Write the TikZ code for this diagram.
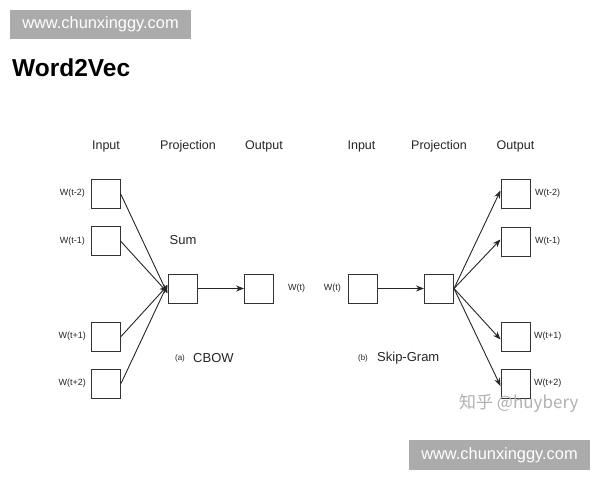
\documentclass[tikz,border=0pt]{standalone}
\usepackage{fontspec}
\setmainfont{Liberation Sans}
\newfontfamily\cjkfont{Noto Sans CJK SC}
\usetikzlibrary{arrows.meta}
\begin{document}
\begin{tikzpicture}[x=1pt,y=-1pt,
  wbox/.style={draw=black!80,line width=1pt,minimum size=29pt,inner sep=0pt},
  hdr/.style={font=\fontsize{12.5}{14}\selectfont,text=black!85},
  wlab/.style={font=\fontsize{9}{10}\selectfont,text=black!85,inner sep=0pt},
  captext/.style={font=\fontsize{13}{15}\selectfont,text=black!85,inner sep=0pt},
  subtext/.style={font=\fontsize{8}{10}\selectfont,text=black!85,inner sep=0pt},
  conn/.style={draw=black!85,line width=0.9pt,-{Stealth[length=8pt,width=6pt]}},
  banner/.style={fill=black!33,draw=none,inner sep=0pt,text=white,font=\fontsize{16.4}{18}\selectfont}]
\useasboundingbox (0,0) rectangle (600,480);
\fill[white] (0,0) rectangle (600,480);
% banners
\node[banner,minimum width=181pt,minimum height=29pt] (bt) at (100.5,24.5) {www.chunxinggy.com};
\node[banner,minimum width=181pt,minimum height=30pt] (bb) at (499.5,455) {www.chunxinggy.com};
% title
\node[anchor=base west,inner sep=0pt,font=\fontsize{24.5}{28}\selectfont\bfseries] (title) at (12,76) {Word2Vec};
% ---- CBOW ----
\node[hdr] (h1) at (106,146) {Input};
\node[hdr] (h2) at (188,146) {Projection};
\node[hdr] (h3) at (264,146) {Output};
\node[wbox] (in1) at (105.5,193.5) {};
\node[wbox] (in2) at (105.5,241) {};
\node[wbox] (in4) at (106,336.5) {};
\node[wbox] (in5) at (106,383.5) {};
\node[wbox] (proj) at (182.5,288.5) {};
\node[wbox] (out) at (259,288.5) {};
\node[wlab,anchor=east] (l1) at (85,193.5) {W(t-2)};
\node[wlab,anchor=east] (l2) at (85,241) {W(t-1)};
\node[wlab,anchor=east] (l4) at (86,336.5) {W(t+1)};
\node[wlab,anchor=east] (l5) at (86,383.5) {W(t+2)};
\node[wlab,anchor=west] (lo) at (288,288.5) {W(t)};
\node[captext] (sum) at (183,240) {Sum};
\node[subtext] (suba) at (180,358.5) {(a)};
\node[captext,anchor=west] (cbow) at (193,358.5) {CBOW};
\draw[conn] (in1.east) -- ([yshift=-5pt]proj.west);
\draw[conn] (in2.east) -- ([yshift=-4pt]proj.west);
\draw[conn] (in4.east) -- ([yshift=3pt]proj.west);
\draw[conn] (in5.east) -- ([yshift=4pt]proj.west);
\draw[conn] (proj.east) -- (out.west);
% ---- Skip-gram ----
\node[hdr] (k1) at (361.5,146) {Input};
\node[hdr] (k2) at (439,146) {Projection};
\node[hdr] (k3) at (515.5,146) {Output};
\node[wbox] (rin) at (362.5,288.5) {};
\node[wbox] (rproj) at (439,288.5) {};
\node[wbox] (ro1) at (515.5,193.5) {};
\node[wbox] (ro2) at (515.5,241.5) {};
\node[wbox] (ro4) at (515.5,336.5) {};
\node[wbox] (ro5) at (515.5,384) {};
\node[wlab,anchor=east] (rl) at (341,288.5) {W(t)};
\node[wlab,anchor=west] (r1) at (535,193.5) {W(t-2)};
\node[wlab,anchor=west] (r2) at (535,241.5) {W(t-1)};
\node[wlab,anchor=west] (r4) at (534,336.5) {W(t+1)};
\node[wlab,anchor=west] (r5) at (534,383) {W(t+2)};
\node[subtext] (subb) at (363,358.5) {(b)};
\node[captext,anchor=west] (sg) at (377,358.5) {Skip-Gram};
\draw[conn] (rin.east) -- (rproj.west);
\draw[conn] (rproj.east) -- ([yshift=3pt]ro1.west);
\draw[conn] (rproj.east) -- ([yshift=2pt]ro2.west);
\draw[conn] (rproj.east) -- ([yshift=-3pt]ro4.west);
\draw[conn] (rproj.east) -- ([yshift=-2pt]ro5.west);
% watermark
\node[inner sep=0pt,anchor=west,text=black!30,font=\fontsize{17}{20}\selectfont] (wm) at (459,403) {\cjkfont 知乎 @huybery};
\end{tikzpicture}
\end{document}
